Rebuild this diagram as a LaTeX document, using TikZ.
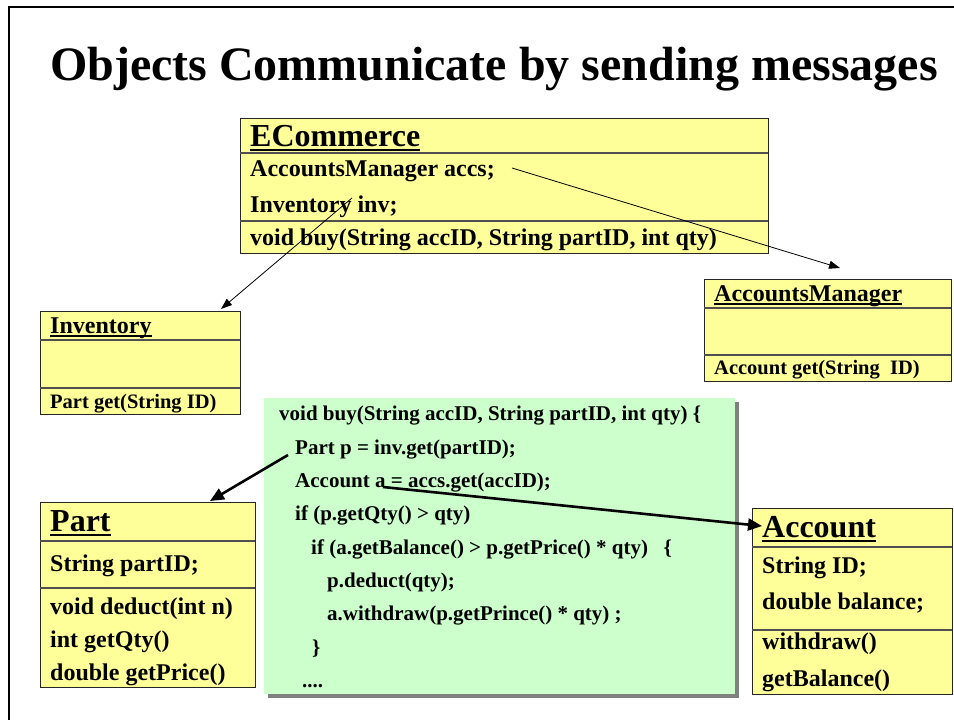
\documentclass[tikz,border=0pt]{standalone}
\usepackage{fontspec}
\setmainfont{Liberation Serif}
\usetikzlibrary{arrows.meta}
\definecolor{umlyellow}{HTML}{FFFF99}
\definecolor{codegreen}{HTML}{CCFFCC}
\definecolor{shadowgray}{HTML}{808080}
\definecolor{sepgray}{HTML}{505050}
\tikzset{
  umlbox/.style={draw=black!85, line width=1.2pt, fill=umlyellow, anchor=north west, inner sep=0pt},
  codebox/.style={fill=codegreen, anchor=north west, inner sep=0pt},
  shadowbox/.style={fill=shadowgray, anchor=north west, inner sep=0pt},
  sepline/.style={draw=sepgray, line width=1.2pt},
  big/.style={anchor=base west, inner sep=0pt, font=\fontsize{32}{36}\selectfont\bfseries},
  mid/.style={anchor=base west, inner sep=0pt, font=\fontsize{24}{28}\selectfont\bfseries},
  small/.style={anchor=base west, inner sep=0pt, font=\fontsize{20.5}{24}\selectfont\bfseries},
  code/.style={anchor=base west, inner sep=0pt, font=\fontsize{21}{25}\selectfont\bfseries},
  uline/.style={line width=2.2pt},
  thinarrow/.style={line width=0.8pt, -{Triangle[length=11pt,width=8pt]}},
  thickarrow/.style={line width=2.6pt, -{Triangle[length=14pt,width=12pt]}},
}
\begin{document}
\begin{tikzpicture}[x=1pt,y=-1pt]
\useasboundingbox (0,0) rectangle (954,720);
% slide frame
\draw[line width=2pt] (9,720) -- (9,7) -- (954,7);
% title
\node[anchor=base, inner sep=0pt, font=\fontsize{48}{54}\selectfont\bfseries] (title) at (494,80) {Objects Communicate by sending messages};

% ECommerce
\node[umlbox, minimum width=528pt, minimum height=135pt] (ecom) at (240,118) {};
\draw[sepline] (240,153) -- (768,153);
\draw[sepline] (240,221) -- (768,221);
\node[big] (ecomh) at (250,146) {ECommerce};
\draw[uline] ([yshift=-4pt]ecomh.base west) -- ([yshift=-4pt]ecomh.base east);
\node[mid] (ecom1) at (250,176) {AccountsManager accs;};
\node[mid] (ecom2) at (250,212) {Inventory inv;};
\node[mid] (ecom3) at (250,245) {void buy(String accID, String partID, int qty)};

% Inventory
\node[umlbox, minimum width=200pt, minimum height=103pt] (inv) at (40,311) {};
\draw[sepline] (40,340) -- (240,340);
\draw[sepline] (40,388) -- (240,388);
\node[mid] (invh) at (50,333) {Inventory};
\draw[uline, line width=1.8pt] ([yshift=-3pt]invh.base west) -- ([yshift=-3pt]invh.base east);
\node[small] (inv1) at (50,408) {Part get(String ID)};

% AccountsManager
\node[umlbox, minimum width=247pt, minimum height=102pt] (am) at (704,279) {};
\draw[sepline] (704,308) -- (951,308);
\draw[sepline] (704,355) -- (951,355);
\node[mid] (amh) at (714,301) {AccountsManager};
\draw[uline, line width=1.8pt] ([yshift=-3pt]amh.base west) -- ([yshift=-3pt]amh.base east);
\node[small] (am1) at (714,374) {Account get(String\ \ ID)};

% code box
\node[shadowbox, minimum width=471pt, minimum height=296pt] (codesh) at (268,402) {};
\node[codebox, minimum width=471pt, minimum height=296pt] (codeb) at (264,398) {};
\node[code] (c1) at (279,420) {void buy(String accID, String partID, int qty) \{};
\node[code] (c2) at (295,454) {Part p = inv.get(partID);};
\node[code] (c3) at (295,487) {Account a = accs.get(accID);};
\node[code] (c4) at (295,520) {if (p.getQty() > qty)};
\node[code] (c5) at (311,554) {if (a.getBalance() > p.getPrice() * qty)\ \ \ \{};
\node[code] (c6) at (327,587) {p.deduct(qty);};
\node[code] (c7) at (327,620) {a.withdraw(p.getPrince() * qty) ;};
\node[code] (c8) at (312,654) {\}};
\node[code] (c9) at (302,687) {....};

% Part
\node[umlbox, minimum width=215pt, minimum height=185pt] (part) at (40,502) {};
\draw[sepline] (40,541) -- (255,541);
\draw[sepline] (40,588) -- (255,588);
\node[big] (parth) at (50,531) {Part};
\draw[uline] ([yshift=-4pt]parth.base west) -- ([yshift=-4pt]parth.base east);
\node[mid] (part1) at (50,571) {String partID;};
\node[mid] (part2) at (50,614) {void deduct(int n)};
\node[mid] (part3) at (50,647) {int getQty()};
\node[mid] (part4) at (50,680) {double getPrice()};

% Account
\node[umlbox, minimum width=200pt, minimum height=186pt] (acc) at (752,508) {};
\draw[sepline] (752,547) -- (952,547);
\draw[sepline] (752,630) -- (952,630);
\node[big] (acch) at (762,537) {Account};
\draw[uline] ([yshift=-4pt]acch.base west) -- ([yshift=-4pt]acch.base east);
\node[mid] (acc1) at (762,573) {String ID;};
\node[mid] (acc2) at (762,609) {double balance;};
\node[mid] (acc3) at (762,649) {withdraw()};
\node[mid] (acc4) at (762,686) {getBalance()};

% connectors
\coordinate (accsref) at (512,168);
\coordinate (amin) at (840,268);
\coordinate (invref) at (352,198);
\coordinate (invin) at (221,309);
\coordinate (partref) at (288,455);
\coordinate (partin) at (210,501);
\coordinate (accref) at (383,487);
\coordinate (accin) at (762,526);
\draw[thinarrow] (accsref) -- (amin);
\draw[thinarrow] (invref) -- (invin);
\draw[thickarrow] (partref) -- (partin);
\draw[thickarrow] (accref) -- (accin);
\end{tikzpicture}
\end{document}
